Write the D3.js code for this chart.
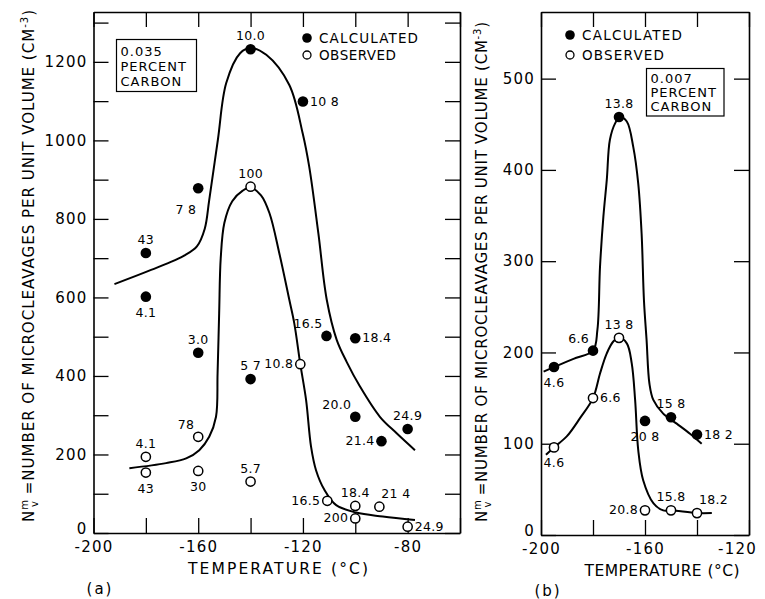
<html>
<head>
<script src="https://cdn.jsdelivr.net/npm/d3@7"></script>
<style>
  body { margin: 0; background: #fff; }
  text { font-family: 'DejaVu Sans', sans-serif; fill: #000; }
</style>
</head>
<body>
<script>

// ---- panel (a): 0.035 percent carbon ----
var calcTempA  = [-180, -180, -160, -160, -140, -140, -120, -111, -100, -100, -90, -80];
var calcValA   = [713, 602, 878, 459, 1232, 392, 1099, 502, 496, 296, 234, 265];
var calcLabelA = ['43', '4.1', '7 8', '3.0', '10.0', '5 7', '10 8', '16.5', '18.4', '20.0', '21.4', '24.9'];
var calcPlaceA = ['n', 's', 'sw', 'n', 'n', 'n', 'e', 'nw', 'e', 'nw', 'w', 'n'];

var obsTempA  = [-180, -180, -160, -160, -140, -140, -121, -110.7, -100, -100, -90.8, -80];
var obsValA   = [194, 154, 245, 158, 882, 131, 430, 82, 69, 37, 67, 16];
var obsLabelA = ['4.1', '43', '78', '30', '100', '5.7', '10.8', '16.5', '18.4', '200', '21 4', '24.9'];
var obsPlaceA = ['n', 's', 'nw', 's', 'n', 'n', 'w', 'w', 'n', 'w', 'ne', 'e'];

var calcCurveA = [[-192, 634], [-178, 670], [-165, 708], [-160.5, 730], [-157.5, 775], [-155.8, 848],
  [-152.5, 1001], [-149.3, 1146], [-144, 1222], [-140, 1235], [-134, 1218], [-125.2, 1141],
  [-120.1, 1018], [-117.6, 933], [-114.1, 763], [-110.9, 594], [-107.1, 492], [-103.3, 436],
  [-98.2, 373], [-90.6, 296], [-84.2, 254], [-77.2, 211]];
var obsCurveA = [[-186.3, 165], [-172.3, 178], [-164.6, 190], [-159.6, 211], [-155.8, 245],
  [-153.2, 296], [-152.6, 407], [-152, 560], [-151.4, 700], [-150, 790], [-147, 845],
  [-143, 872], [-140, 880], [-136, 860], [-132.8, 815], [-129, 712], [-125.2, 594], [-123.3, 534], [-121, 430],
  [-118.8, 339], [-116.9, 220], [-115, 160], [-111.8, 110], [-107.3, 71], [-99.7, 52],
  [-89.5, 42], [-77.2, 33]];

var xTicksA  = [-200, -180, -160, -140, -120, -100, -80, -60];
var xLabelsA = [-200, -160, -120, -80];
var yTicksA  = [0, 100, 200, 300, 400, 500, 600, 700, 800, 900, 1000, 1100, 1200, 1300];
var yLabelsA = [0, 200, 400, 600, 800, 1000, 1200];
var boxLinesA = ['0.035', 'PERCENT', 'CARBON'];

// ---- panel (b): 0.007 percent carbon ----
var calcTempB  = [-195, -180, -170, -160, -150, -140];
var calcValB   = [184, 202, 458, 125, 129, 110];
var calcLabelB = ['4.6', '6.6', '13.8', '20 8', '15 8', '18 2'];
var calcPlaceB = ['s', 'nw', 'n', 's', 'n', 'e'];

var obsTempB  = [-195, -180, -170, -160, -150, -140];
var obsValB   = [96, 150, 216, 27, 27, 24];
var obsLabelB = ['4.6', '6.6', '13 8', '20.8', '15.8', '18.2'];
var obsPlaceB = ['s', 'e', 'n', 'w', 'n', 'ne'];

var calcCurveB = [[-199, 179], [-195, 184], [-187.5, 193], [-180, 202], [-178.3, 225],
  [-177.3, 294], [-176, 349], [-174.7, 389], [-173.5, 433], [-171.5, 451], [-169.6, 458],
  [-167, 453], [-164.5, 425], [-162.6, 385], [-161.3, 330], [-160.4, 257], [-159.4, 214],
  [-158.3, 166], [-156.8, 148], [-153, 133], [-147.8, 122], [-142.7, 111], [-138.2, 100]];
var obsCurveB = [[-198.1, 88], [-195, 96], [-190.1, 108], [-185, 128], [-180, 150],
  [-177.3, 177], [-174.7, 199], [-172.2, 212], [-170, 216], [-167, 210], [-165.1, 188],
  [-163.8, 148], [-162.6, 93], [-160.7, 60], [-156.8, 35], [-153, 27], [-150, 27],
  [-140, 24], [-134.3, 24]];

var xTicksB  = [-200, -180, -160, -140, -120];
var xLabelsB = [-200, -160, -120];
var yTicksB  = [0, 100, 200, 300, 400, 500];
var yLabelsB = [0, 100, 200, 300, 400, 500];
var boxLinesB = ['0.007', 'PERCENT', 'CARBON'];

var legendLabels = ['CALCULATED', 'OBSERVED'];
var xTitle = 'TEMPERATURE (\u00b0C)';

var width = 765, height = 599;
var svg = d3.select('body').append('svg')
  .attr('width', width)
  .attr('height', height);

var place = {
  n:  {dx: 0,  dy: -9, anchor: 'middle'},
  s:  {dx: 0,  dy: 20, anchor: 'middle'},
  e:  {dx: 7,  dy: 4,  anchor: 'start'},
  w:  {dx: -7, dy: 4,  anchor: 'end'},
  nw: {dx: -4, dy: -8, anchor: 'end'},
  ne: {dx: 2,  dy: -9, anchor: 'start'},
  sw: {dx: -2, dy: 26, anchor: 'end'}
};

function drawPanel(o) {
  var x = d3.scaleLinear().domain(o.xDomain).range(o.xRange);
  var y = d3.scaleLinear().domain(o.yDomain).range(o.yRange);
  var g = svg.append('g');
  var tick = 15;
  var fmtX = function (d) { return o.xLabels.indexOf(d) >= 0 ? String(d) : ''; };
  var fmtY = function (d) { return o.yLabels.indexOf(d) >= 0 ? String(d) : ''; };

  var bottom = g.append('g').attr('transform', 'translate(0,' + o.yRange[0] + ')')
    .call(d3.axisBottom(x).tickValues(o.xTicks).tickSize(-tick).tickSizeOuter(0).tickPadding(8).tickFormat(fmtX));
  g.append('g').attr('transform', 'translate(0,' + o.yRange[1] + ')')
    .call(d3.axisTop(x).tickValues(o.xTicks).tickSize(-tick).tickSizeOuter(0).tickFormat(''));
  var left = g.append('g').attr('transform', 'translate(' + o.xRange[0] + ',0)')
    .call(d3.axisLeft(y).tickValues(o.yTicks).tickSize(-tick).tickSizeOuter(0).tickPadding(6).tickFormat(fmtY));
  g.append('g').attr('transform', 'translate(' + o.xRange[1] + ',0)')
    .call(d3.axisRight(y).tickValues(o.yTicks).tickSize(-tick).tickSizeOuter(0).tickFormat(''));

  g.selectAll('.domain').attr('stroke', '#000').attr('stroke-width', 1.6);
  g.selectAll('.tick line').attr('stroke', '#000').attr('stroke-width', 1.3);
  g.selectAll('.tick text')
    .attr('font-family', "'DejaVu Sans', sans-serif")
    .attr('font-size', 15)
    .attr('letter-spacing', 1.2)
    .attr('fill', '#000');
  // last x label sits against the page edge in the original
  bottom.selectAll('.tick text')
    .filter(function (d) { return d === o.xDomain[1]; })
    .attr('dx', o.lastLabelShift);
  // the zero label rides a little high, clear of the x labels
  left.selectAll('.tick text')
    .filter(function (d) { return d === 0; })
    .attr('dy', '0.05em');

  var line = d3.line()
    .x(function (d) { return x(d[0]); })
    .y(function (d) { return y(d[1]); })
    .curve(d3.curveCatmullRom.alpha(0.5));

  [o.calcCurve, o.obsCurve].forEach(function (c) {
    g.append('path')
      .datum(c)
      .attr('fill', 'none')
      .attr('stroke', '#000')
      .attr('stroke-width', 2)
      .attr('d', line);
  });

  function points(temps, vals, labels, places, filled) {
    var rows = temps.map(function (t, i) {
      return {t: t, v: vals[i], label: labels[i], p: place[places[i]]};
    });
    g.append('g').selectAll('circle')
      .data(rows)
      .enter()
      .append('circle')
      .attr('cx', function (d) { return x(d.t); })
      .attr('cy', function (d) { return y(d.v); })
      .attr('r', filled ? 5.3 : 4.6)
      .attr('fill', filled ? '#000' : '#fff')
      .attr('stroke', '#000')
      .attr('stroke-width', filled ? 0 : 1.5);
    g.append('g').selectAll('text')
      .data(rows)
      .enter()
      .append('text')
      .attr('x', function (d) { return x(d.t) + d.p.dx; })
      .attr('y', function (d) { return y(d.v) + d.p.dy; })
      .attr('text-anchor', function (d) { return d.p.anchor; })
      .attr('font-size', 12.5)
      .attr('letter-spacing', 0.3)
      .text(function (d) { return d.label; });
  }
  points(o.calcTemp, o.calcVal, o.calcLabel, o.calcPlace, true);
  points(o.obsTemp, o.obsVal, o.obsLabel, o.obsPlace, false);

  // legend
  g.append('circle').attr('cx', o.legend[0]).attr('cy', o.legend[1]).attr('r', 4.8).attr('fill', '#000');
  g.append('circle').attr('cx', o.legend[0]).attr('cy', o.legend[1] + o.legend[2]).attr('r', 4)
    .attr('fill', '#fff').attr('stroke', '#000').attr('stroke-width', 1.3);
  legendLabels.forEach(function (s, i) {
    g.append('text')
      .attr('x', o.legend[0] + 12)
      .attr('y', o.legend[1] + i * o.legend[2] + 5)
      .attr('font-size', 13.5)
      .attr('textLength', o.legendLen[i])
      .attr('lengthAdjust', 'spacing')
      .text(s);
  });

  // carbon box
  var b = o.box;
  g.append('rect').attr('x', b[0]).attr('y', b[1]).attr('width', b[2]).attr('height', b[3])
    .attr('fill', '#fff').attr('stroke', '#000').attr('stroke-width', 1.2);
  o.boxLines.forEach(function (s, i) {
    g.append('text')
      .attr('x', b[0] + 4)
      .attr('y', b[1] + b[4] + i * b[5])
      .attr('font-size', 13)
      .attr('letter-spacing', 1)
      .text(s);
  });

  // x title
  g.append('text')
    .attr('x', o.xTitle[0]).attr('y', o.xTitle[1])
    .attr('text-anchor', 'middle')
    .attr('font-size', 15.5)
    .attr('textLength', o.xTitle[2])
    .attr('lengthAdjust', 'spacing')
    .text(xTitle);

  g.append('text')
    .attr('x', o.tag[0]).attr('y', o.tag[1])
    .attr('text-anchor', 'middle')
    .attr('font-size', 15)
    .attr('letter-spacing', 2)
    .text(o.tag[2]);
}

function yTitle(cx, cy, len) {
  var t = svg.append('text')
    .attr('transform', 'translate(' + cx + ',' + cy + ') rotate(-90)')
    .attr('text-anchor', 'middle')
    .attr('font-size', 15)
    .attr('textLength', len)
    .attr('lengthAdjust', 'spacing');
  t.append('tspan').text('N');
  t.append('tspan').attr('font-size', 10).attr('dy', -6).text('m');
  t.append('tspan').attr('font-size', 10).attr('dx', -8).attr('dy', 10).text('v');
  t.append('tspan').attr('dy', -4).text(' =NUMBER OF MICROCLEAVAGES PER UNIT VOLUME  (CM');
  t.append('tspan').attr('font-size', 10).attr('dy', -6).text('-3');
  t.append('tspan').attr('dy', 6).text(')');
}

drawPanel({
  xDomain: [-200, -60], xRange: [93.5, 460],
  yDomain: [0, 1327], yRange: [533, 12],
  xTicks: xTicksA, xLabels: xLabelsA, yTicks: yTicksA, yLabels: yLabelsA,
  calcTemp: calcTempA, calcVal: calcValA, calcLabel: calcLabelA, calcPlace: calcPlaceA,
  obsTemp: obsTempA, obsVal: obsValA, obsLabel: obsLabelA, obsPlace: obsPlaceA,
  calcCurve: calcCurveA, obsCurve: obsCurveA,
  legend: [307, 38, 17], legendLen: [99, 77],
  box: [116.5, 39.5, 80, 52, 16, 15], boxLines: boxLinesA,
  xTitle: [278, 574, 180], tag: [100, 594, '(a)'], lastLabelShift: 0
});

drawPanel({
  xDomain: [-200, -120], xRange: [541, 749],
  yDomain: [0, 573], yRange: [535, 12],
  xTicks: xTicksB, xLabels: xLabelsB, yTicks: yTicksB, yLabels: yLabelsB,
  calcTemp: calcTempB, calcVal: calcValB, calcLabel: calcLabelB, calcPlace: calcPlaceB,
  obsTemp: obsTempB, obsVal: obsValB, obsLabel: obsLabelB, obsPlace: obsPlaceB,
  calcCurve: calcCurveB, obsCurve: obsCurveB,
  legend: [570, 35, 20], legendLen: [100, 82],
  box: [646.5, 68.5, 77.5, 47.5, 14, 14], boxLines: boxLinesB,
  xTitle: [662, 576, 155], tag: [548, 596, '(b)'], lastLabelShift: -12
});

yTitle(34, 266, 512);
yTitle(487, 272, 500);

</script>
</body>
</html>
